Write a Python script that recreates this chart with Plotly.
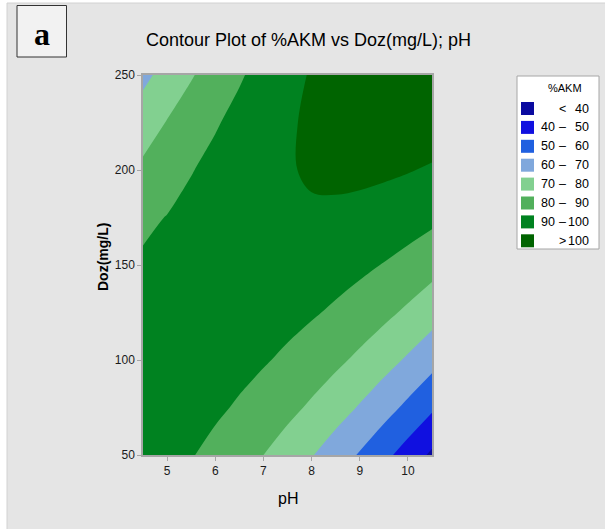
import plotly.graph_objects as go

# ---------------- data ----------------
ph = [4.5, 5.0, 5.5, 6.0, 6.5, 7.0, 7.5, 8.0, 8.5, 9.0, 9.5, 10.0, 10.5]
doz = [50, 75, 100, 125, 150, 175, 200, 225, 250]
akm_d50 = [95.03, 93.02, 90.50, 87.50, 84.00, 80.02, 75.53, 70.56, 65.09, 59.14, 52.68, 45.74, 38.30]
akm_d75 = [95.96, 94.97, 93.47, 91.49, 89.00, 86.04, 82.57, 78.62, 74.16, 69.23, 63.79, 57.87, 51.44]
akm_d100 = [95.65, 95.67, 95.19, 94.22, 92.76, 90.81, 88.36, 85.42, 81.99, 78.07, 73.65, 68.74, 63.34]
akm_d125 = [94.08, 95.12, 95.65, 95.71, 95.26, 94.33, 92.89, 90.98, 88.56, 85.66, 82.25, 78.37, 73.98]
akm_d150 = [91.26, 93.32, 94.87, 95.94, 96.51, 96.60, 96.18, 95.28, 93.88, 92.00, 89.61, 86.74, 83.37]
akm_d175 = [88.20, 90.27, 92.84, 94.93, 96.51, 97.62, 98.62, 99.04, 98.65, 97.79, 96.42, 94.57, 92.21]
akm_d200 = [81.88, 85.97, 89.56, 92.66, 95.27, 97.39, 99.41, 100.84, 101.48, 101.63, 101.28, 100.44, 99.11]
akm_d225 = [75.31, 80.42, 85.02, 89.15, 92.77, 95.91, 98.94, 101.40, 103.05, 104.22, 104.88, 105.07, 104.75]
akm_d250 = [67.49, 73.62, 79.24, 84.38, 89.02, 93.18, 97.23, 100.70, 103.37, 105.56, 107.24, 108.44, 109.14]
akm = [akm_d50, akm_d75, akm_d100, akm_d125, akm_d150, akm_d175, akm_d200, akm_d225, akm_d250]

levels = [40, 50, 60, 70, 80, 90, 100]
band_colors = ['#0a0aa0', '#1010e0', '#2060e0', '#80a8dc', '#82d090', '#52b05c', '#008220', '#006400']
legend_low = ['', '40', '50', '60', '70', '80', '90', '']
legend_mid = ['<', '–', '–', '–', '–', '–', '–', '>']
legend_high = ['40', '50', '60', '70', '80', '90', '100', '100']

x_ticks = [5, 6, 7, 8, 9, 10]
y_ticks = [50, 100, 150, 200, 250]

# ---------------- layout helpers (pixel -> paper) ----------------
L, R, T, B = 143, 432, 75, 455
W, H = 605, 529


def xp(px):
    return (px - L) / (R - L)


def yp(py):
    return (B - py) / (B - T)


n = len(band_colors)
cscale = []
for k, c in enumerate(band_colors):
    lo = max(0.0, (k - 0.5) / (n - 1))
    hi = min(1.0, (k + 0.5) / (n - 1))
    cscale.append([lo, c])
    cscale.append([hi, c])

fig = go.Figure()
fig.add_trace(go.Contour(
    x=ph, y=doz, z=akm,
    autocontour=False,
    contours=dict(start=levels[0], end=levels[-1], size=levels[1] - levels[0],
                  coloring='fill', showlines=False),
    colorscale=cscale,
    showscale=False,
    line=dict(width=0),
    hoverinfo='skip',
))

SANS = "Liberation Sans, Arial, sans-serif"

shapes = [
    # gray panel
    dict(type='rect', xref='paper', yref='paper', x0=xp(7), x1=xp(607), y0=yp(531), y1=yp(3),
         fillcolor='#e5e5e5', line=dict(color='#d2d2d2', width=1), layer='below'),
    # label box
    dict(type='rect', xref='paper', yref='paper', x0=xp(17), x1=xp(66.5), y0=yp(57), y1=yp(5.5),
         fillcolor='#f2f2f2', line=dict(color='#333333', width=1), layer='above'),
    # legend box
    dict(type='rect', xref='paper', yref='paper', x0=xp(517), x1=xp(599), y0=yp(249), y1=yp(76),
         fillcolor='white', line=dict(color='#a6a6a6', width=1), layer='above'),
]

annotations = [
    dict(text='<b>a</b>', x=xp(42), y=yp(34), xref='paper', yref='paper', showarrow=False,
         xanchor='center', yanchor='middle',
         font=dict(family='Liberation Serif, Times New Roman, serif', size=32, color='black')),
    dict(text='Contour Plot of %AKM vs Doz(mg/L); pH', x=xp(308), y=yp(40), xref='paper', yref='paper',
         showarrow=False, xanchor='center', yanchor='middle',
         font=dict(family=SANS, size=18, color='black')),
    dict(text='pH', x=xp(288), y=yp(498), xref='paper', yref='paper', showarrow=False,
         xanchor='center', yanchor='middle', font=dict(family=SANS, size=16, color='black')),
    dict(text='<b>Doz(mg/L)</b>', x=xp(103), y=yp(257), xref='paper', yref='paper', showarrow=False,
         textangle=-90, xanchor='center', yanchor='middle',
         font=dict(family=SANS, size=14, color='black')),
    dict(text='%AKM', x=xp(565), y=yp(88), xref='paper', yref='paper', showarrow=False,
         xanchor='center', yanchor='middle', font=dict(family=SANS, size=11, color='black')),
]

for k, c in enumerate(band_colors):
    cy = 108.5 + 18.9 * k
    shapes.append(dict(type='rect', xref='paper', yref='paper', x0=xp(521), x1=xp(534),
                       y0=yp(cy + 6.5), y1=yp(cy - 6.5), fillcolor=c, line=dict(width=0),
                       layer='above'))
    f = dict(family=SANS, size=12.5, color='black')
    if legend_low[k]:
        annotations.append(dict(text=legend_low[k], x=xp(539), y=yp(cy), xref='paper', yref='paper',
                                showarrow=False, xanchor='left', yanchor='middle', font=f))
    annotations.append(dict(text=legend_mid[k], x=xp(562), y=yp(cy), xref='paper', yref='paper',
                            showarrow=False, xanchor='center', yanchor='middle', font=f))
    annotations.append(dict(text=legend_high[k], x=xp(591), y=yp(cy), xref='paper', yref='paper',
                            showarrow=False, xanchor='right', yanchor='middle', font=f))

axis_common = dict(showline=True, mirror=True, linecolor='#a6a6a6', linewidth=1.5,
                   ticks='outside', ticklen=4, tickcolor='#a6a6a6', tickwidth=1,
                   showgrid=False, zeroline=False,
                   tickfont=dict(family=SANS, size=12, color='#1a1a1a'))

fig.update_layout(
    width=W, height=H,
    margin=dict(l=L, r=W - R, t=T, b=H - B, pad=0),
    paper_bgcolor='white',
    plot_bgcolor='rgba(0,0,0,0)',
    xaxis=dict(range=[4.5, 10.5], tickvals=x_ticks, **axis_common),
    yaxis=dict(range=[50, 250], tickvals=y_ticks, **axis_common),
    shapes=shapes,
    annotations=annotations,
    showlegend=False,
)

fig.write_html("out.html")
